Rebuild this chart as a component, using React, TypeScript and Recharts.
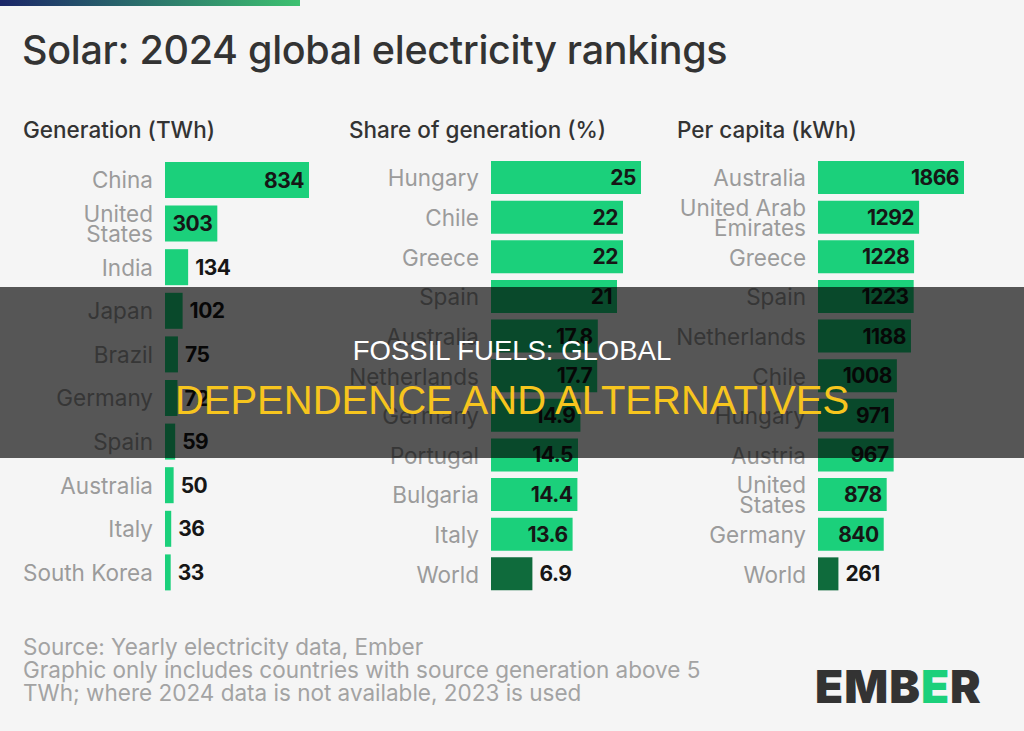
import React from "react";
import { BarChart, Bar, XAxis, YAxis, Cell, LabelList } from "recharts";

const genNames = ["China", "United\nStates", "India", "Japan", "Brazil", "Germany", "Spain", "Australia", "Italy", "South Korea"];
const genValues = [834, 303, 134, 102, 75, 72, 59, 50, 36, 33];

const shareNames = ["Hungary", "Chile", "Greece", "Spain", "Australia", "Netherlands", "Germany", "Portugal", "Bulgaria", "Italy", "World"];
const shareValues = [25, 22, 22, 21, 17.8, 17.7, 14.9, 14.5, 14.4, 13.6, 6.9];

const capitaNames = ["Australia", "United Arab\nEmirates", "Greece", "Spain", "Netherlands", "Chile", "Hungary", "Austria", "United\nStates", "Germany", "World"];
const capitaValues = [1866, 1292, 1228, 1223, 1188, 1008, 971, 967, 878, 840, 261];

const GREEN = "#1bd07b";
const WORLD = "#0f6b3c";
const FONT = "Inter, 'Noto Sans', sans-serif";

const toRows = (names: string[], values: number[]) =>
  names.map((name, i) => ({ name, value: values[i] }));

function CountryTick(props: any) {
  const { x, y, payload } = props;
  const lines = String(payload.value).split("\n");
  const lh = 20;
  const y0 = y - ((lines.length - 1) * lh) / 2;
  return (
    <text x={x} y={y0} textAnchor="end" fill="#9b9b9b" fontSize={22.5} fontFamily={FONT}>
      {lines.map((l, i) => (
        <tspan key={i} x={x} y={y0 + i * lh} dominantBaseline="central">
          {l}
        </tspan>
      ))}
    </text>
  );
}

function ValueLabel(props: any) {
  const { x, y, width, height, value, index, data } = props;
  const text = String(value);
  const tw = text.length * 11.5;
  const inside = width > tw + 9;
  const isWorld = data[index].name === "World";
  return (
    <text
      x={inside ? x + width - 5 : x + width + 7}
      y={y + height / 2}
      textAnchor={inside ? "end" : "start"}
      dominantBaseline="central"
      fontSize={21}
      fontWeight={700}
      fontFamily={FONT}
      letterSpacing={-0.5}
      fill={isWorld && inside ? "#ffffff" : "#161616"}
    >
      {text}
    </text>
  );
}

function Panel(props: { data: { name: string; value: number }[]; left: number; axisW: number; plotW: number; max: number; barSize: number }) {
  const { data, left, axisW, plotW, max, barSize } = props;
  return (
    <div style={{ position: "absolute", left, top: 158 }}>
      <BarChart
        width={axisW + plotW + 60}
        height={436}
        data={data}
        layout="vertical"
        margin={{ top: 0, right: 60, bottom: 0, left: 0 }}
      >
        <XAxis type="number" hide domain={[0, max]} />
        <YAxis
          type="category"
          dataKey="name"
          width={axisW}
          axisLine={false}
          tickLine={false}
          tickSize={0}
          tickMargin={12}
          interval={0}
          tick={<CountryTick />}
        />
        <Bar dataKey="value" barSize={barSize} isAnimationActive={false}>
          {data.map((d, i) => (
            <Cell key={i} fill={d.name === "World" ? WORLD : GREEN} />
          ))}
          <LabelList dataKey="value" content={(p: any) => <ValueLabel {...p} data={data} />} />
        </Bar>
      </BarChart>
    </div>
  );
}

export default function App() {
  const gen = toRows(genNames, genValues);
  const share = toRows(shareNames, shareValues);
  const capita = toRows(capitaNames, capitaValues);
  const heading: React.CSSProperties = { position: "absolute", top: 116, fontSize: 22.5, fontWeight: 500, color: "#333", fontFamily: FONT };
  const foot: React.CSSProperties = { position: "absolute", left: 23, fontSize: 22.5, color: "#a3a3a3", fontFamily: FONT };
  return (
    <div style={{ position: "absolute", left: 0, top: 0, width: 1024, height: 731, background: "#f5f5f5", overflow: "hidden" }}>
      <div style={{ position: "absolute", left: 0, top: 0, width: 300, height: 6, background: "linear-gradient(90deg, #1b2668, #3dc170)" }} />
      <div style={{ position: "absolute", left: 22, top: 26, fontSize: 39.5, fontWeight: 500, color: "#333", fontFamily: FONT, letterSpacing: -0.3 }}>
        Solar: 2024 global electricity rankings
      </div>
      <div style={{ ...heading, left: 23 }}>Generation (TWh)</div>
      <div style={{ ...heading, left: 349 }}>Share of generation (%)</div>
      <div style={{ ...heading, left: 677 }}>Per capita (kWh)</div>

      <Panel data={gen} left={0} axisW={165} plotW={144} max={834} barSize={36} />
      <Panel data={share} left={340} axisW={151} plotW={150} max={25} barSize={33} />
      <Panel data={capita} left={670} axisW={148} plotW={146} max={1866} barSize={33} />

      <div style={{ ...foot, top: 633 }}>Source: Yearly electricity data, Ember</div>
      <div style={{ ...foot, top: 656 }}>Graphic only includes countries with source generation above 5</div>
      <div style={{ ...foot, top: 679 }}>TWh; where 2024 data is not available, 2023 is used</div>

      <div style={{ position: "absolute", left: 815, top: 658, fontSize: 46, fontWeight: 900, color: "#333", fontFamily: FONT, letterSpacing: 1 }}>
        EMB<span style={{ color: GREEN }}>E</span>R
      </div>

      <div style={{ position: "absolute", left: 0, top: 287, width: 1024, height: 171, background: "rgba(0,0,0,0.65)" }} />
      <div style={{ position: "absolute", left: 0, top: 335, width: 1024, textAlign: "center", color: "#fff", fontSize: 27.5, fontFamily: "'Liberation Sans', Arial, sans-serif" }}>
        FOSSIL FUELS: GLOBAL
      </div>
      <div style={{ position: "absolute", left: 0, top: 378, width: 1024, textAlign: "center", color: "#f7c51e", fontSize: 40, fontFamily: "'Liberation Sans', Arial, sans-serif" }}>
        DEPENDENCE AND ALTERNATIVES
      </div>
    </div>
  );
}
